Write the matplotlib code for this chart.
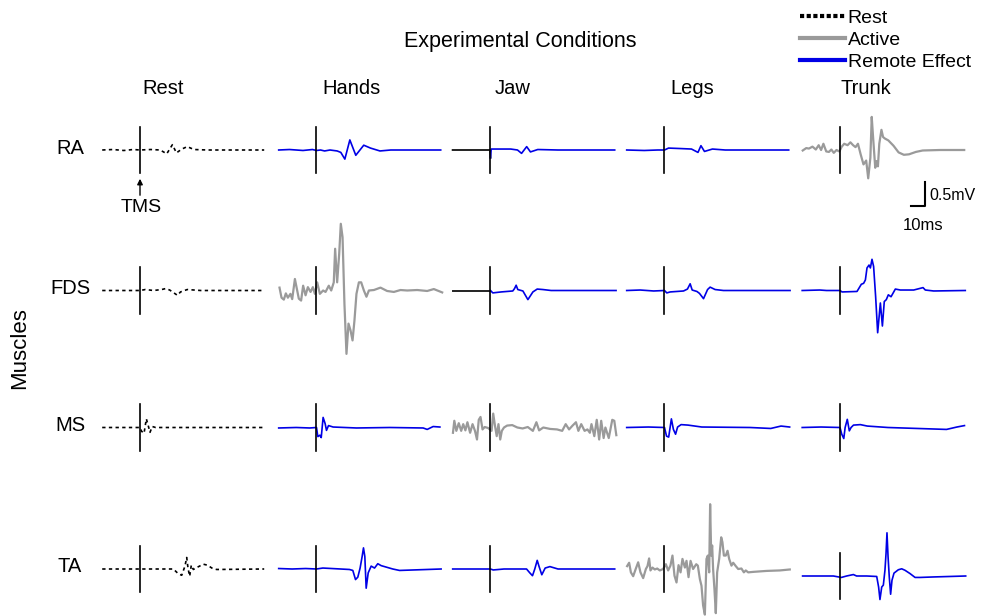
import matplotlib

matplotlib.use("Agg")
import matplotlib.pyplot as plt
from matplotlib.lines import Line2D

plt.rcParams["font.family"] = ["Liberation Sans", "DejaVu Sans"]

# traces: (time in ms after TMS, amplitude in mV)
RA_REST = [(-28, 0), (-20, 0.01), (-12, -0.01), (-5, 0.01), (0, 0), (8, 0.01), (15, 0),
           (19.8, -0.08), (24, 0.11), (27, -0.06), (31, 0.02), (35, 0.07), (40, 0.01), (50, 0), (92, 0)]
RA_HANDS = [(-28, 0), (-20, 0.01), (-10, -0.01), (-3, 0.01), (0, -0.01), (3, 0.0), (6, -0.02),
            (10, 0.0), (15.3, -0.02), (18, -0.05), (21, -0.19), (24.7, 0.21), (29.1, -0.11),
            (35, 0.1), (40, 0.04), (47, -0.02), (55, 0), (92, 0)]
RA_JAW = [(-28, 0), (-0.3, 0), (0, -0.16), (0.5, 0.02), (5, 0.02), (15, 0.02), (20, 0.0),
          (23, -0.07), (26.8, 0.07), (29.6, -0.04), (35, 0.01), (50, 0), (92, 0)]
RA_LEGS = [(-28, 0), (-15, -0.01), (-5, 0), (0, 0), (3, 0.04), (12, 0.03), (20, 0.02),
           (24.8, -0.05), (27, 0.09), (29.6, -0.03), (35.5, 0.02), (45, 0), (92, 0)]
RA_TRUNK = [(-27.6, -0.01), (-25.0, 0.04), (-23.0, 0.03), (-20.4, 0.07), (-17.9, 0.01),
            (-15.8, 0.10), (-14.0, 0.0), (-12.3, 0.13), (-10.2, -0.03), (-8.2, -0.04),
            (-6.4, 0.01), (-4.6, -0.06), (-2.6, 0.0), (-0.5, -0.03), (1.3, 0.07), (3.1, 0.13),
            (5.6, 0.10), (7.7, 0.16), (9.7, 0.10), (11.5, 0.06), (13.3, 0.13), (15.3, -0.09),
            (17.4, -0.30), (19.4, -0.22), (20.9, -0.59), (22.5, -0.16), (23.5, 0.69),
            (24.5, 0.27), (26.1, -0.37), (27.1, -0.23), (28.1, -0.34), (29.1, 0.13),
            (30.7, 0.42), (31.9, 0.27), (33.2, 0.24), (35.8, 0.20), (39.6, 0.09),
            (43.4, -0.05), (47.3, -0.10), (51.1, -0.09), (56.2, -0.04), (61.3, -0.01),
            (74.1, 0.0), (92.0, 0.0)]

FDS_REST = [(-28, 0), (-10, 0), (0, 0), (4, 0.02), (10, 0), (16, 0.02), (19, 0.04), (22, 0.01),
            (27.7, -0.1), (30, -0.03), (35, 0.02), (45, 0), (92, 0)]
FDS_HANDS = [(-27.4, 0.06), (-25.9, -0.15), (-24.2, -0.19), (-22.7, -0.06), (-21.2, -0.15),
             (-19.3, -0.07), (-18.0, -0.18), (-16.0, 0.24), (-14.8, 0.07), (-13.1, -0.17),
             (-11.4, -0.21), (-9.9, 0.10), (-8.1, -0.10), (-6.4, 0.07), (-4.4, -0.03),
             (-2.7, 0.07), (-1.2, -0.07), (0.5, 0.17), (2.5, -0.07), (4.9, 0.0), (6.7, -0.03),
             (9.1, 0.10), (10.9, 0.0), (12.8, 0.17), (13.8, 0.87), (15.3, 0.17), (16.8, 0.76),
             (18.0, 1.39), (19.3, 1.11), (20.7, -0.28), (22.2, -1.32), (23.7, -0.69),
             (25.2, -0.83), (26.7, -1.04), (28.1, -0.63), (29.6, -0.07), (31.4, 0.17),
             (33.1, 0.17), (35.1, 0.0), (37.0, -0.13), (38.8, 0.0), (42.5, 0.01), (47.4, 0.06),
             (52.3, -0.01), (57.3, -0.03), (62.2, 0.01), (67.2, 0.0), (74.6, 0.01),
             (82.0, -0.01), (86.9, 0.03), (93.1, -0.04)]
FDS_JAW = [(-28, 0), (0, 0), (1.7, -0.05), (7.9, -0.03), (16.5, -0.01), (17.8, 0.04),
           (19.0, 0.11), (20.2, 0.02), (24.0, -0.01), (27.7, -0.19), (31.4, -0.03),
           (34.6, 0.03), (38.8, 0.02), (44.9, 0.0), (93, 0.0)]
FDS_LEGS = [(-28, 0), (-18, 0.01), (-8, -0.01), (0, 0), (1.7, -0.05), (4.2, -0.03),
            (14.1, -0.01), (17.0, 0.03), (19.0, 0.14), (20.5, 0.01), (24.0, -0.02),
            (25.9, -0.06), (28.9, -0.17), (31.9, 0.02), (33.8, 0.07), (37.5, 0.02),
            (43.7, 0), (93, 0)]
FDS_TRUNK = [(-28, 0), (-15, 0.01), (-10, 0.0), (0, 0), (1.5, -0.03), (12.6, -0.02),
             (15.8, 0.13), (17.5, 0.15), (18.8, 0.22), (20.0, 0.47), (21.5, 0.53),
             (22.5, 0.47), (23.7, 0.65), (24.9, 0.50), (26.4, -0.13), (27.9, -0.88),
             (29.9, -0.26), (31.4, -0.74), (32.8, -0.23), (34.3, -0.19), (35.8, -0.09),
             (37.8, -0.13), (41.0, 0.03), (44.7, 0.01), (54.6, 0.01), (61.5, 0.06),
             (63.2, 0.01), (69.4, -0.01), (92.8, 0)]

MS_REST = [(-28, 0), (0, 0), (1.2, -0.08), (3, -0.12), (4.7, 0.18), (5.9, 0.06), (7.4, -0.1),
           (9.1, 0.02), (11.6, 0), (92, 0)]
MS_HANDS = [(-28, -0.01), (-15, 0.0), (-5, -0.01), (0, 0), (1.0, -0.19), (2.5, -0.16),
            (3.5, -0.21), (4.9, 0.21), (6.4, 0.08), (7.4, -0.06), (8.9, 0.04), (12.3, 0.01),
            (29.6, -0.01), (54.3, 0), (79.0, -0.01), (82.0, -0.04), (86.4, 0.02), (91.4, 0.01)]
MS_JAW = [(-27.8, -0.11), (-26.8, 0.14), (-25.3, -0.07), (-23.5, 0.09), (-21.7, -0.07),
          (-20.2, 0.07), (-18.6, -0.06), (-17.1, 0.11), (-15.1, -0.11), (-13.3, 0.07),
          (-11.5, -0.07), (-10.0, -0.25), (-8.7, 0.16), (-7.4, 0.22), (-5.9, -0.04),
          (-4.3, 0.01), (-1.8, -0.01), (0.8, -0.07), (2.0, 0.29), (3.3, 0.04), (4.6, -0.18),
          (5.9, 0.07), (7.2, -0.25), (8.4, -0.07), (10.0, 0), (12.3, 0.04), (16.1, 0.05),
          (19.9, 0), (23.8, -0.02), (27.6, 0.01), (31.4, -0.07), (34.0, 0.11), (36.0, -0.06),
          (39.1, 0), (44.2, -0.03), (49.3, -0.04), (53.1, -0.07), (55.7, 0.07), (58.2, -0.04),
          (60.8, 0.04), (63.3, 0.11), (65.1, -0.07), (67.2, 0.07), (69.7, -0.07),
          (71.8, -0.04), (73.6, -0.11), (74.8, 0.07), (76.9, -0.18), (78.7, 0.16),
          (80.5, -0.25), (82.0, 0.14), (83.8, -0.22), (85.1, 0), (87.6, -0.22), (90.2, 0.16),
          (91.7, 0.14), (93.2, -0.16)]
MS_LEGS = [(-28, 0), (-12, 0.01), (0, 0), (1.5, -0.18), (3.1, -0.20), (5.1, 0.18),
           (6.6, -0.04), (8.2, -0.14), (9.7, 0.01), (12.3, 0.06), (17.4, 0.05), (27.6, 0.01),
           (63.4, 0), (78.7, -0.02), (86.3, 0.03), (92.7, 0.01)]
MS_TRUNK = [(-28, 0), (-14, 0.01), (0, 0), (1.3, -0.14), (2.8, -0.23), (3.8, 0), (5.4, 0.17),
            (6.9, -0.07), (8.2, 0), (10.0, 0.05), (15.1, 0.06), (20.2, 0.03), (35.5, 0),
            (78.9, -0.04), (86.6, 0.01), (92.2, 0.04)]

TA_REST = [(-28, 0), (0, 0), (24.7, 0), (28.4, -0.10), (30.9, -0.13), (33.3, 0.06),
           (34.6, 0.24), (35.6, 0.01), (36.8, -0.15), (38.0, 0.08), (39.5, -0.01),
           (42.0, 0.03), (46.9, 0.10), (49.9, 0.08), (53.8, 0.01), (56.8, -0.01), (92, 0)]
TA_HANDS = [(-28, 0.01), (-18, 0.0), (-8, 0.01), (0, 0), (4.7, 0.02), (24.4, -0.01),
            (26.9, -0.03), (28.9, -0.22), (30.6, -0.17), (32.3, 0.02), (33.8, 0.26),
            (34.8, 0.44), (35.8, 0.26), (36.8, -0.40), (38.3, -0.08), (40.5, 0.06),
            (43.0, 0.02), (45.4, 0.11), (47.9, 0.07), (51.6, 0.04), (56.5, 0), (61.5, -0.03),
            (92.3, 0)]
TA_JAW = [(-28, 0), (-10, 0), (0, 0), (2, -0.02), (10, 0), (26.7, 0), (29.1, -0.08),
          (31.1, -0.14), (32.8, 0), (34.6, 0.18), (36, 0.05), (38, -0.12), (40.5, 0.02),
          (44, 0.05), (50, 0), (92, 0)]
TA_LEGS = [(-27.7, 0.06), (-26.2, 0.13), (-24.9, -0.07), (-23.2, -0.15), (-21.2, 0.01),
           (-19.5, 0.14), (-17.8, -0.07), (-15.8, -0.19), (-13.8, 0), (-12.6, 0.06),
           (-11.4, 0.22), (-10.4, -0.03), (-8.9, 0.03), (-7.2, -0.01), (-5.4, 0.01),
           (-3.5, -0.03), (-1.0, 0), (1.0, 0.10), (2.7, -0.03), (4.4, 0.07), (5.9, 0.28),
           (7.4, -0.14), (8.9, -0.28), (10.4, 0.08), (11.9, -0.07), (13.3, 0.21), (15.1, 0.03),
           (16.3, 0.17), (17.8, -0.17), (19.3, 0.17), (21.2, 0), (23.5, 0.10), (24.7, 0.07),
           (26.2, -0.21), (27.4, -0.35), (28.6, -0.76), (29.9, -0.95), (31.1, 0.21),
           (32.1, 0.28), (33.1, -0.07), (33.8, 1.35), (34.6, 0.28), (35.3, 0.49), (36.0, 0),
           (37.0, -0.42), (38.0, -0.92), (39.0, -0.07), (40.5, 0.21), (42.0, 0.66),
           (42.9, 0.56), (44.0, 0.28), (45.4, 0.28), (46.7, 0.38), (47.9, 0.21), (49.6, 0.07),
           (50.9, 0.13), (52.8, 0.06), (54.6, 0), (57.0, 0.01), (58.8, -0.07), (60.2, -0.03),
           (62.0, -0.07), (65.7, -0.06), (75.6, -0.04), (85.4, -0.03), (92.8, -0.01)]
TA_TRUNK = [(-27.7, 0), (-4.9, 0), (1.0, -0.03), (4.9, 0), (9.9, 0.03), (12.3, 0), (19.8, 0),
            (27.2, -0.01), (28.6, -0.23), (29.6, -0.49), (30.9, -0.23), (32.1, -0.19),
            (33.3, 0.12), (34.1, 0.47), (34.8, 0.90), (35.6, 0.40), (36.5, -0.02),
            (37.5, -0.38), (38.5, -0.09), (40.0, 0.06), (43.2, 0.13), (45.7, 0.15),
            (48.1, 0.12), (51.9, 0.05), (55.6, -0.03), (59.3, -0.03), (69.1, -0.02), (93.1, 0)]

CONDITIONS = ["Rest", "Hands", "Jaw", "Legs", "Trunk"]
MUSCLES = ["RA", "FDS", "MS", "TA"]
TRACES = {
    "RA": [RA_REST, RA_HANDS, RA_JAW, RA_LEGS, RA_TRUNK],
    "FDS": [FDS_REST, FDS_HANDS, FDS_JAW, FDS_LEGS, FDS_TRUNK],
    "MS": [MS_REST, MS_HANDS, MS_JAW, MS_LEGS, MS_TRUNK],
    "TA": [TA_REST, TA_HANDS, TA_JAW, TA_LEGS, TA_TRUNK],
}
# condition in which each muscle is the active one
ACTIVE_IN = {"RA": "Trunk", "FDS": "Hands", "MS": "Jaw", "TA": "Legs"}
BLACK_PRESTIM = [("RA", "Jaw"), ("FDS", "Jaw")]

# layout (pixels of the 982x616 figure)
W, H = 982, 616
PX_PER_MS = 1.35
PX_PER_MV = 48.0
COL_TMS_PX = [140, 316.5, 490.5, 664.5, 840]
ROW_BASE_PX = [150, 290.5, 427.5, 569]
PANEL_SHIFT_PX = {("TA", "Trunk"): 7}
TMS_HALF_MV = 0.48

BLUE = "#0000e6"
GRAY = "#9a9a9a"


def x_ms(px):
    return px / PX_PER_MS


def y_mv(py):
    return (H - py) / PX_PER_MV


def fx(px):
    return px / W


def fy(py):
    return 1 - py / H


fig = plt.figure(figsize=(W / 100, H / 100), dpi=100)
ax = fig.add_axes([0, 0, 1, 1])
ax.set_xlim(0, W / PX_PER_MS)
ax.set_ylim(0, H / PX_PER_MV)
ax.axis("off")

for r, muscle in enumerate(MUSCLES):
    for c, cond in enumerate(CONDITIONS):
        x0 = x_ms(COL_TMS_PX[c])
        y0 = y_mv(ROW_BASE_PX[r] + PANEL_SHIFT_PX.get((muscle, cond), 0))
        t = [p[0] for p in TRACES[muscle][c]]
        v = [p[1] for p in TRACES[muscle][c]]
        xs = [x0 + ti for ti in t]
        ys = [y0 + vi for vi in v]
        if cond == "Rest":
            ax.plot(xs, ys, color="black", lw=1.2, ls=(0, (2, 2)))
        elif ACTIVE_IN[muscle] == cond:
            ax.plot(xs, ys, color=GRAY, lw=1.6)
        elif (muscle, cond) in BLACK_PRESTIM:
            pre = [i for i, ti in enumerate(t) if ti <= 0]
            post = [i for i, ti in enumerate(t) if ti >= 0]
            ax.plot([xs[i] for i in pre], [ys[i] for i in pre], color="#222222", lw=1.4)
            ax.plot([xs[i] for i in post], [ys[i] for i in post], color=BLUE, lw=1.2)
        else:
            ax.plot(xs, ys, color=BLUE, lw=1.2)
        ax.plot([x0, x0], [y0 - TMS_HALF_MV, y0 + TMS_HALF_MV], color="black", lw=1.2)

# scale bar: 10 ms / 0.5 mV
sb_x, sb_y = x_ms(925), y_mv(206)
ax.plot([sb_x - 10, sb_x, sb_x], [sb_y, sb_y, sb_y + 0.5], color="black", lw=1.5)
fig.text(fx(929), fy(196), "0.5mV", fontsize=11.5, ha="left", va="center")
fig.text(fx(923), fy(225), "10ms", fontsize=12, ha="center", va="center")

# TMS arrow
ax.annotate("", xy=(x_ms(140), y_mv(176)), xytext=(x_ms(140), y_mv(198)),
            arrowprops=dict(arrowstyle="-|>", color="black", lw=1.0, mutation_scale=8))
fig.text(fx(141), fy(208), "TMS", fontsize=14, ha="center", va="center")

# titles and labels
fig.text(fx(520), fy(42), "Experimental Conditions", fontsize=15.5, ha="center", va="center")
col_title_px = [163, 351, 513, 692, 866]
for c, cond in enumerate(CONDITIONS):
    fig.text(fx(col_title_px[c]), fy(89), cond, fontsize=14.5, ha="center", va="center")
for r, muscle in enumerate(MUSCLES):
    fig.text(fx(70), fy(ROW_BASE_PX[r] - 2), muscle, fontsize=14.5, ha="center", va="center")
fig.text(fx(20), fy(348), "Muscles", fontsize=16, rotation=90, ha="center", va="center")

handles = [
    Line2D([], [], color="black", lw=3, ls=(0, (1, 0.6))),
    Line2D([], [], color=GRAY, lw=3),
    Line2D([], [], color=BLUE, lw=3),
]
fig.legend(handles, ["Rest", "Active", "Remote Effect"], loc="upper left",
           bbox_to_anchor=(fx(800), fy(9.5)), frameon=False, fontsize=14,
           handlelength=2.3, handletextpad=0.15, labelspacing=0.22, borderpad=0.0,
           borderaxespad=0.0)

fig.savefig("out.png", dpi=100)
